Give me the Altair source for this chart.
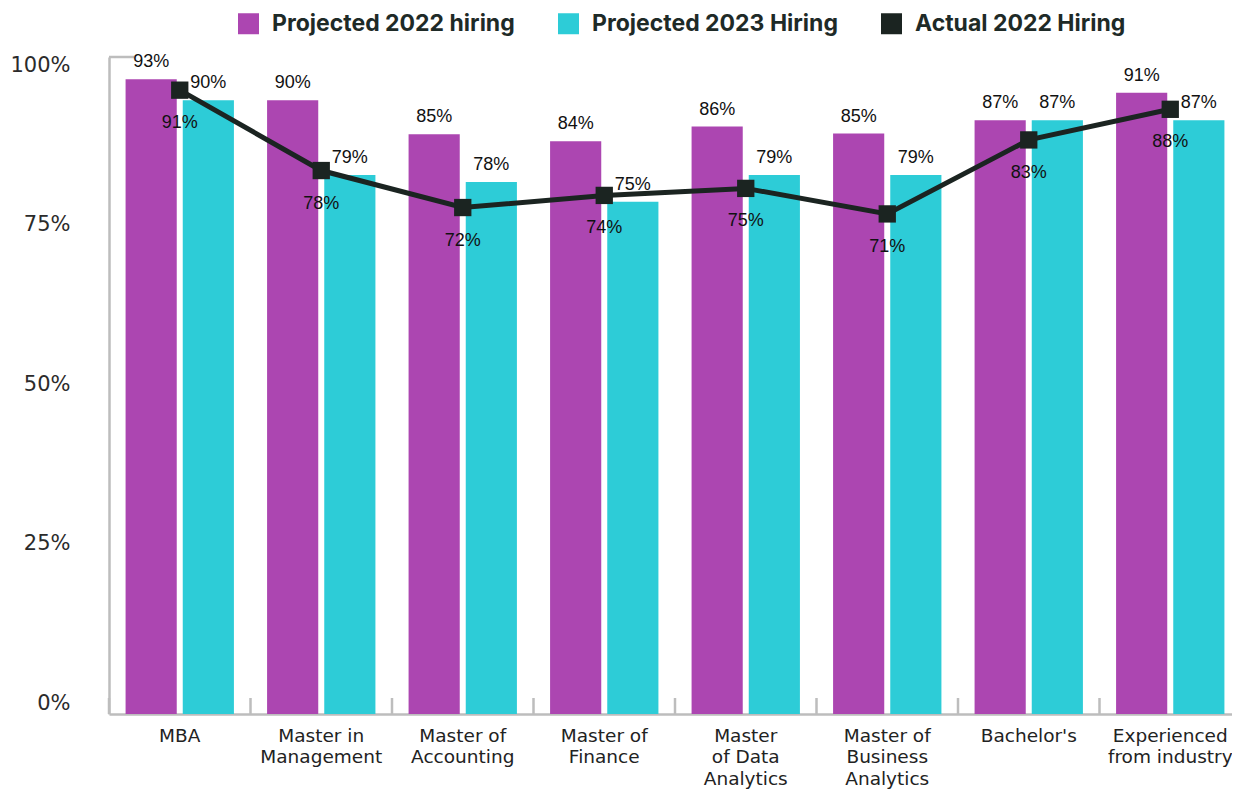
import altair as alt
import pandas as pd

# ---------------- data ----------------
categories = ["MBA", "Master in|Management", "Master of|Accounting", "Master of|Finance",
              "Master|of Data|Analytics", "Master of|Business|Analytics", "Bachelor's",
              "Experienced|from industry"]
series_names = ["Projected 2022 hiring", "Projected 2023 Hiring", "Actual 2022 Hiring"]
series_colors = ["#AC46B1", "#2DCCD7", "#1B2421"]

# bar heights as drawn against the y axis, and the value labels printed on them
proj_2022_height = [99.5, 96.2, 90.9, 89.8, 92.1, 91.0, 93.1, 97.4]
proj_2022_label = [93, 90, 85, 84, 86, 85, 87, 91]
proj_2023_height = [96.2, 84.5, 83.4, 80.3, 84.5, 84.5, 93.1, 93.1]
proj_2023_label = [90, 79, 78, 75, 79, 79, 87, 87]
# line points as drawn, and their printed labels
actual_2022_height = [97.8, 85.2, 79.4, 81.3, 82.4, 78.4, 90.0, 94.8]
actual_2022_label = [91, 78, 72, 74, 75, 71, 83, 88]

y_ticks = [0, 25, 50, 75, 100]

rows = []
for i, c in enumerate(categories):
    rows.append({"category": c, "series": series_names[0],
                 "value": proj_2022_height[i], "label": f"{proj_2022_label[i]}%"})
    rows.append({"category": c, "series": series_names[1],
                 "value": proj_2023_height[i], "label": f"{proj_2023_label[i]}%"})
bars_df = pd.DataFrame(rows)
line_df = pd.DataFrame({"category": categories,
                        "series": series_names[2],
                        "value": actual_2022_height,
                        "label": [f"{v}%" for v in actual_2022_label]})
ticks_df = pd.DataFrame({"category": categories})

# ---------------- layout ----------------
W, H = 1123, 657
XRANGE = 1132
YMAX = 103
GRAY = "#BDBDBD"

x_axis = alt.Axis(title=None, labelExpr="split(datum.label, '|')", labelAngle=0,
                  ticks=False, domainColor=GRAY, domainWidth=2.5,
                  labelFont="DejaVu Sans", labelFontSize=18.5, labelColor="#222222",
                  labelLineHeight=21.5, labelPadding=12, labelBaseline="top",
                  labelLimit=300)
x_scale = alt.Scale(paddingInner=0, paddingOuter=0, range=[0, XRANGE])


def x_enc(**kw):
    return alt.X("category:N", sort=categories, scale=x_scale, axis=x_axis, **kw)


y_axis = alt.Axis(title=None, values=y_ticks, labelExpr="datum.value + '%'",
                  ticks=False, grid=False, domainColor=GRAY, domainWidth=2.5,
                  labelFont="DejaVu Sans", labelFontSize=21, labelColor="#2B2B2B",
                  labelPadding=39, labelOffset=-11)
y_enc = alt.Y("value:Q", scale=alt.Scale(domain=[0, YMAX], nice=False), axis=y_axis)

color_enc = alt.Color(
    "series:N",
    scale=alt.Scale(domain=series_names, range=series_colors),
    legend=alt.Legend(title=None, orient="none", legendX=128, legendY=-45,
                      direction="horizontal", symbolType="square", symbolSize=441,
                      symbolStrokeWidth=0, labelFont="Inter", labelFontSize=23,
                      labelFontWeight="bold", labelColor="#1E2A27", labelOffset=12,
                      columnPadding=42, labelLimit=500),
)
xoff = alt.XOffset("series:N", sort=series_names[:2],
                   scale=alt.Scale(paddingInner=0.105, paddingOuter=0.29))

bars = alt.Chart(bars_df).mark_bar().encode(
    x=x_enc(), xOffset=xoff, y=y_enc, color=color_enc)

bar_labels = alt.Chart(bars_df).mark_text(
    font="Liberation Sans", fontSize=18, color="#111111", baseline="alphabetic", dy=-12
).encode(x=x_enc(), xOffset=xoff, y=y_enc, text="label:N")

line = alt.Chart(line_df).mark_line(color="#1B2421", strokeWidth=5).encode(
    x=x_enc(), y=y_enc)

points = alt.Chart(line_df).mark_point(shape="square", filled=True, size=300, opacity=1).encode(
    x=x_enc(), y=y_enc, color=color_enc)

line_labels = alt.Chart(line_df).mark_text(
    font="Liberation Sans", fontSize=18, color="#111111", baseline="middle", dy=33
).encode(x=x_enc(), y=y_enc, text="label:N")

tick_rules = alt.Chart(ticks_df).mark_rule(color=GRAY, strokeWidth=2.5).encode(
    x=x_enc(bandPosition=0), y=alt.value(H), y2=alt.value(H - 16))

top_tick = alt.Chart(pd.DataFrame({"a": [0]})).mark_rule(color=GRAY, strokeWidth=2.5).encode(
    x=alt.value(0), x2=alt.value(25), y=alt.value(0))

chart = alt.layer(bars, tick_rules, top_tick, line, points, bar_labels, line_labels).properties(
    width=W, height=H,
    autosize=alt.AutoSizeParams(type="none"),
    padding={"left": 101, "top": 49, "right": 0, "bottom": 75},
).configure_view(stroke=None)

chart.save("out.html", embed_options={"renderer": "svg", "actions": False})
